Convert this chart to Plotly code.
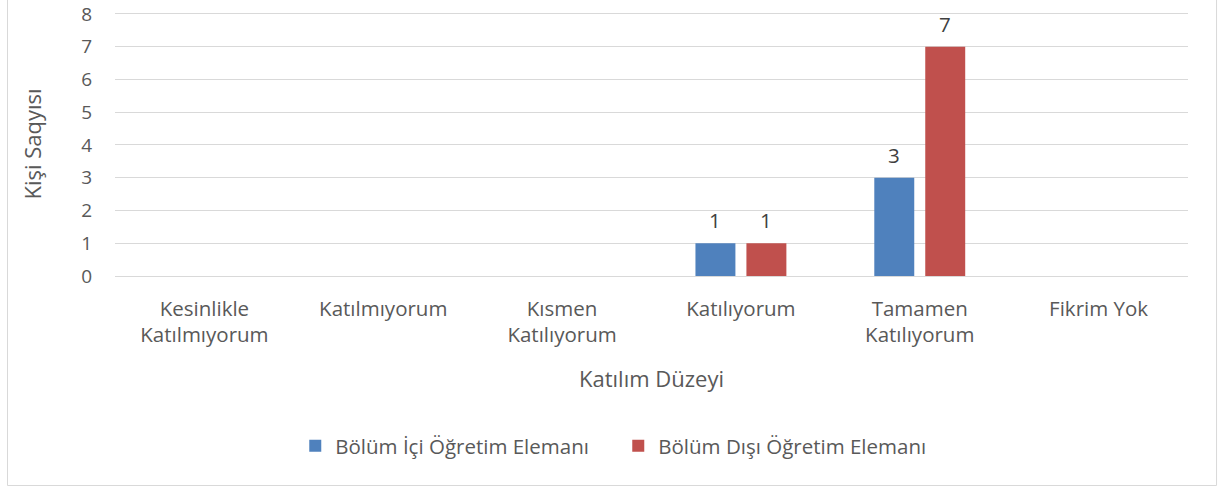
import plotly.graph_objects as go

categories = ["Kesinlikle<br>Katılmıyorum", "Katılmıyorum", "Kısmen<br>Katılıyorum",
              "Katılıyorum", "Tamamen<br>Katılıyorum", "Fikrim Yok"]
series_names = ["Bölüm İçi Öğretim Elemanı", "Bölüm Dışı Öğretim Elemanı"]
ici_values = [0, 0, 0, 1, 3, 0]
disi_values = [0, 0, 0, 1, 7, 0]
y_ticks = [0, 1, 2, 3, 4, 5, 6, 7, 8]
x_title = "Katılım Düzeyi"
y_title = "Kişi Saqyısı"

colors = ["#4F81BD", "#C0504D"]
FONT = "Open Sans"
TXT = "#595959"
FS = 20.5
FY = 19
FT = 22

fig = go.Figure()
for name, vals, col in zip(series_names, [ici_values, disi_values], colors):
    fig.add_trace(go.Bar(x=categories, y=vals, name=name, marker=dict(color=col, line=dict(width=0))))

annotations = []
for vals, shift in zip([ici_values, disi_values], [-25.5, 25.5]):
    for c, v in zip(categories, vals):
        if v != 0:
            annotations.append(dict(x=c, y=v, text=str(v), showarrow=False, xref="x", yref="y",
                                    yanchor="bottom", yshift=7, xshift=shift,
                                    font=dict(family=FONT, size=FS, color="#404040")))

fig.update_layout(
    width=1218, height=489,
    margin=dict(l=115, r=30, t=12, b=213),
    paper_bgcolor="white", plot_bgcolor="white",
    barmode="group", bargap=0.43, bargroupgap=0.216,
    font=dict(family=FONT, size=FS, color=TXT),
    showlegend=True,
    legend=dict(orientation="h", x=0.1680, xanchor="left", y=-0.644, yanchor="middle",
                font=dict(family=FONT, size=FS, color=TXT), itemwidth=30,
                tracegroupgap=0, entrywidthmode="pixels", entrywidth=278),
    annotations=annotations,
    shapes=[dict(type="rect", xref="paper", yref="paper", x0=-0.1002, x1=1.0266,
                 y0=-0.7936, y1=1.06, line=dict(color="#d9d9d9", width=1), layer="below")],
)
fig.update_xaxes(title=dict(text=x_title, font=dict(family=FONT, size=FT, color=TXT), standoff=24),
                 automargin=False,
                 showgrid=False, showline=False, ticks="", ticklabelstandoff=18,
                 tickfont=dict(family=FONT, size=FS, color=TXT))
fig.update_yaxes(title=dict(text=y_title, font=dict(family=FONT, size=FT, color=TXT), standoff=33),
                 automargin=False,
                 range=[0, 8.06], tickvals=y_ticks, showgrid=True, gridcolor="#d9d9d9", gridwidth=1.3,
                 zeroline=True, zerolinecolor="#d9d9d9", zerolinewidth=1.3, showline=False, ticks="",
                 ticklabelstandoff=22, ticklabeloverflow="allow",
                 tickfont=dict(family=FONT, size=FY, color=TXT))

fig.write_html("out.html", post_script="document.body.style.margin='0';",
               config={"displayModeBar": False})
